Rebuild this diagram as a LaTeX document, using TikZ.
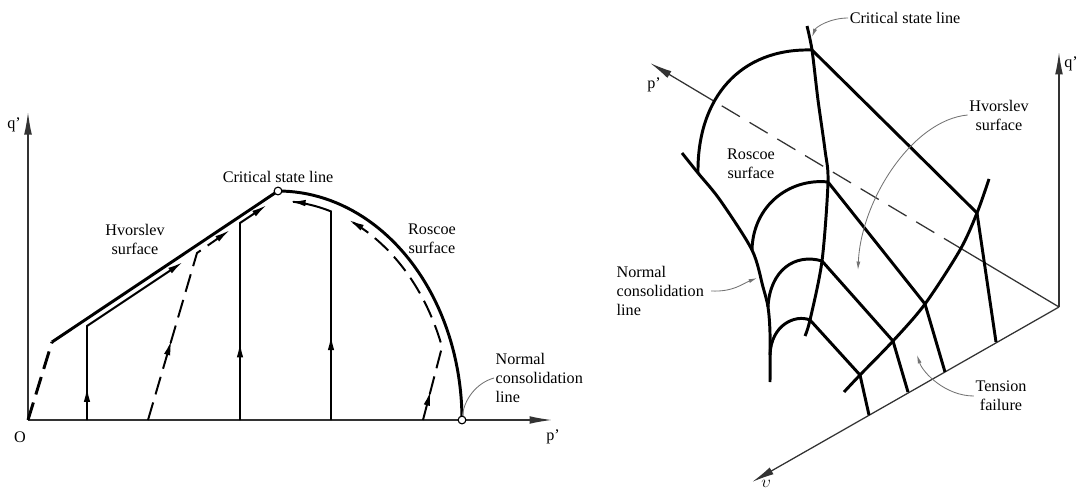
\documentclass[tikz,border=0pt]{standalone}
\usepackage{fontspec}
\setmainfont{Liberation Serif}
\usetikzlibrary{arrows.meta, positioning, calc, decorations.markings}

\begin{document}
\begin{tikzpicture}[
    x=0.025cm, y=-0.025cm,
    every node/.style={font=\fontsize{11.5}{13.5}\selectfont, inner sep=1pt},
    axis/.style={line width=0.9pt, draw=black!80},
    axisarrow/.style={axis, -{Latex[length=16pt,width=5.5pt]}},
    surf/.style={line width=2.1pt, line join=round},
    spath/.style={line width=1.4pt},
    dashline/.style={dash pattern=on 13pt off 6pt},
    tip/.style={-{Latex[length=11pt,width=4.6pt]}},
    midarrow/.style={postaction={decorate}, decoration={markings,
        mark=at position #1 with {\arrow{Latex[length=11pt,width=4.6pt]}}}},
    leader/.style={draw=black!55, line width=0.6pt},
    leadtip/.style={leader, -{Latex[length=6pt,width=2.8pt]}},
    statept/.style={circle, draw, fill=white, line width=0.8pt, minimum size=5.5pt, inner sep=0pt}
  ]
  \useasboundingbox (0,0) rectangle (1080,493);

  % q'-p' plane
  \coordinate (O) at (28,420);
  \coordinate (ptip) at (552,420);
  \coordinate (qtip) at (28,112);
  \draw[axisarrow] (O) -- (ptip);
  \draw[axisarrow] (O) -- (qtip);
  \node (olab) at (20,437) {O};
  \node (plab) at (553,437) {p'};
  \node (qlab) at (14,125) {q'};

  \coordinate (hk) at (52,342);
  \coordinate (csp) at (278,191);
  \coordinate (ncp) at (462,420);
  \draw[surf, dashline] (O) -- (hk);
  \draw[surf] (hk) -- (csp);
  \draw[surf] plot[domain=90:0, samples=50] ({278+184*cos(\x)},{420-229*sin(\x)});

  \draw[spath, midarrow=0.16, tip] (87,420) -- (87,326) -- (183,262);
  \draw[spath, dashline, midarrow=0.39, tip] (148,420) -- (197,253) -- (230,230);
  \draw[spath, midarrow=0.34, tip] (240,420) -- (240,223) -- (267,205);
  \draw[spath, midarrow=0.34, tip] (331,420) -- (331,212)
    -- plot[domain=72.3:86, samples=15] ({278+174*cos(\x)},{420-219*sin(\x)});
  \draw[spath, dashline, midarrow=0.13, tip] (423,420) -- (442,347)
    -- plot[domain=19.5:66, samples=30] ({278+174*cos(\x)},{420-219*sin(\x)});

  \node[statept] (cs) at (csp) {};
  \node[statept] (nc) at (ncp) {};

  \node (csl) at (278,177) {Critical state line};
  \node[align=center] (hvl) at (135,239) {Hvorslev\\surface};
  \node[align=center] (rol) at (432,239) {Roscoe\\surface};
  \node[align=left, anchor=west] (ncl) at (494,378) {Normal\\consolidation\\line};
  \draw[leader] (ncl.west) .. controls +(-18,5) and +(2,-20) .. (nc);

  % q'-p'-v space
  \coordinate (R0) at (1059,307);
  \coordinate (rqtip) at (1059,52);
  \coordinate (rvtip) at (752,482);
  \coordinate (rptip) at (650,63);
  \coordinate (pa) at ($(R0)!0.237!(rptip)$);
  \coordinate (pb) at ($(R0)!0.846!(rptip)$);
  \draw[axisarrow] (R0) -- (rqtip);
  \draw[axisarrow] (R0) -- (rvtip);
  \draw[axis] (R0) -- (pa);
  \draw[axis, dash pattern=on 15pt off 8pt] (pa) -- (pb);
  \draw[axisarrow] (pb) -- (rptip);

  \coordinate (c0) at (807,26);
  \coordinate (c1) at (812,50);
  \coordinate (c2) at (828,182);
  \coordinate (c3) at (822,261);
  \coordinate (c4) at (810,320);
  \coordinate (c5) at (805,336);
  \coordinate (n0) at (682,153);
  \coordinate (n1) at (698,173);
  \coordinate (n2) at (752,250);
  \coordinate (n3) at (768,307);
  \coordinate (n4) at (770,355);
  \coordinate (n5) at (770,382);
  \coordinate (h0) at (989,179);
  \coordinate (h1) at (977,213);
  \coordinate (h2) at (925,304);
  \coordinate (h3) at (893,341);
  \coordinate (h4) at (860,375);
  \coordinate (h5) at (844,392);
  \coordinate (t1) at (996,342);
  \coordinate (t2) at (945,372);
  \coordinate (t3) at (908,392);
  \coordinate (t4) at (869,415);

  \draw[surf] plot[smooth, tension=0.5] coordinates {(c0) (c1) (818,100) (825,150) (c2) (c3) (c4) (c5)};
  \draw[surf] plot[smooth, tension=0.5] coordinates {(n0) (n1) (720,200) (n2) (763,287) (n3) (770,333) (n5)};
  \draw[surf] plot[smooth, tension=0.5] coordinates {(h0) (h1) (960,250) (h2) (h3) (h4) (h5)};
  \draw[surf] (c1) .. controls (740,48) and (697,98) .. (n1);
  \draw[surf] (c2) .. controls (790,178) and (753,205) .. (n2);
  \draw[surf] (c3) .. controls (795,253) and (770,270) .. (n3);
  \draw[surf] (c4) .. controls (795,314) and (771,325) .. (n4);
  \draw[surf] (c1) -- (h1);
  \draw[surf] (c2) -- (h2);
  \draw[surf] (c3) -- (h3);
  \draw[surf] (c4) -- (h4);
  \draw[surf] (h1) -- (t1);
  \draw[surf] (h2) -- (t2);
  \draw[surf] (h3) -- (t3);
  \draw[surf] (h4) -- (t4);

  \node (rpl) at (654,85) {p'};
  \node (rql) at (1071,64) {q'};
  \node (rvl) at (766,484) {$\upsilon$};
  \node (rcsl) at (905,18) {Critical state line};
  \node[align=center] (rhvl) at (999,115) {Hvorslev\\surface};
  \node[align=center] (rrol) at (751,164) {Roscoe\\surface};
  \node[align=left, anchor=west] (rncl) at (615,291) {Normal\\consolidation\\line};
  \node[align=center] (rtfl) at (1001,396) {Tension\\failure};

  \coordinate (cslptr) at (812,37);
  \coordinate (hvptr) at (858,270);
  \coordinate (nclptr) at (757,278);
  \coordinate (tfptr) at (917,355);
  \draw[leadtip] (rcsl.west) .. controls +(-18,0) and +(4,-10) .. (cslptr);
  \draw[leadtip] (rhvl.west) .. controls +(-55,5) and +(3,-70) .. (hvptr);
  \draw[leadtip] ([xshift=4pt]rncl.east) .. controls +(22,1) and +(-15,6) .. (nclptr);
  \draw[leadtip] (rtfl.west) .. controls +(-28,0) and +(6,18) .. (tfptr);
\end{tikzpicture}
\end{document}
